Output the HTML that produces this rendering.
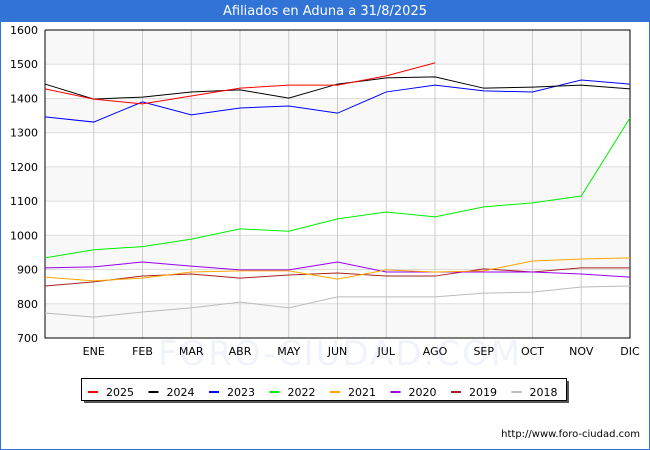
<!DOCTYPE html>
<html><head><meta charset="utf-8"><style>
body{margin:0;width:650px;height:450px;overflow:hidden;background:#fff;font-family:"DejaVu Sans","Liberation Sans",sans-serif}
#frame{position:absolute;left:0;top:0;width:648px;height:448px;border:1px solid #3273d6}
#title{position:absolute;left:0;top:0;width:650px;height:22px;background:#3273d6;color:#fff;font-size:13px;line-height:23px;text-align:center}
</style></head><body>
<div id="frame"></div>
<div id="title">Afiliados en Aduna a 31/8/2025</div>
<svg id="chart" width="650" height="450" style="position:absolute;left:0;top:0"></svg>
<script>
const months=["","ENE","FEB","MAR","ABR","MAY","JUN","JUL","AGO","SEP","OCT","NOV","DIC"];
const yTicks=[700,800,900,1000,1100,1200,1300,1400,1500,1600];
const seriesNames=["2025","2024","2023","2022","2021","2020","2019","2018"];
const seriesColors=["#ff0000","#000000","#0000ff","#00ee00","#ffa500","#9900ee","#aa2222","#bbbbbb"];
const s2025=[1428,1398,1384,1407,1430,1439,1439,1466,1504];
const s2024=[1442,1398,1404,1419,1425,1401,1442,1460,1463,1430,1433,1439,1428];
const s2023=[1346,1331,1390,1352,1372,1378,1357,1419,1439,1422,1419,1454,1442];
const s2022=[934,958,967,989,1019,1012,1048,1068,1054,1083,1095,1115,1343];
const s2021=[878,867,875,893,896,896,872,899,893,896,925,931,934];
const s2020=[905,908,922,910,899,899,922,893,893,893,893,887,878];
const s2019=[852,864,881,887,875,884,890,881,881,902,893,905,905];
const s2018=[773,761,776,788,805,788,820,820,820,831,834,849,852];
const allSeries=[s2025,s2024,s2023,s2022,s2021,s2020,s2019,s2018];

const svg=document.getElementById('chart');
const NS='http://www.w3.org/2000/svg';
const L=45,R=630,T=30,B=338,ymin=700,ymax=1600;
const xs=i=>L+(R-L)*i/12;
const ys=v=>B-(v-ymin)/(ymax-ymin)*(B-T);
function mk(tag,attrs){const e=document.createElementNS(NS,tag);for(const k in attrs)e.setAttribute(k,attrs[k]);svg.appendChild(e);return e;}
for(let i=0;i<yTicks.length-1;i++){
  if(i%2===0){const b=mk('rect',{x:L,y:ys(yTicks[i+1]),width:R-L,height:ys(yTicks[i])-ys(yTicks[i+1]),fill:'#f8f8f8'});
  
  }
}
const wm=mk('text',{x:340,y:365,'text-anchor':'middle','font-size':34,fill:'#f0f3fa','letter-spacing':2});
wm.textContent='FORO-CIUDAD.COM';


yTicks.forEach(v=>{
  const g=mk('line',{x1:L,x2:R,y1:ys(v),y2:ys(v),stroke:'#dddddd','stroke-width':1});
  
  
  const t=mk('text',{x:L-7,y:ys(v)+4,'text-anchor':'end','font-size':11,fill:'#000'});
  t.textContent=v;
  
  
});
months.forEach((m,i)=>{
  if(i>0){const g=mk('line',{x1:xs(i),x2:xs(i),y1:T,y2:B,stroke:'#cccccc','stroke-width':1});
  
  }
  const t=mk('text',{x:xs(i),y:B+17,'text-anchor':'middle','font-size':11,fill:'#000'});
  t.textContent=m;
  
  
});
const ax=mk('path',{d:`M${L} ${T}V${B}H${R}V${T}H${L}`,fill:'none',stroke:'#000','stroke-width':1});


for(let s=allSeries.length-1;s>=0;s--){
  const pts=allSeries[s].map((v,i)=>xs(i)+','+ys(v)).join(' ');
  const p=mk('polyline',{points:pts,fill:'none',stroke:seriesColors[s],'stroke-width':1});
  
  
}
const sh=mk('rect',{x:84,y:381,width:485,height:22,fill:'#555'});


const lb=mk('rect',{x:81.5,y:378.5,width:485,height:22,fill:'#fff',stroke:'#000','stroke-width':1});


seriesNames.forEach((n,i)=>{
  const x0=88+i*60.5;
  const l=mk('line',{x1:x0,x2:x0+10,y1:392,y2:392,stroke:seriesColors[i],'stroke-width':2});
  
  
  const t=mk('text',{x:x0+18,y:396,'font-size':11,fill:'#000'});
  t.textContent=n;
  
  
});
const u=mk('text',{x:640,y:437,'text-anchor':'end','font-size':10,fill:'#000'});
u.textContent='http://www.foro-ciudad.com';


</script>
</body></html>
